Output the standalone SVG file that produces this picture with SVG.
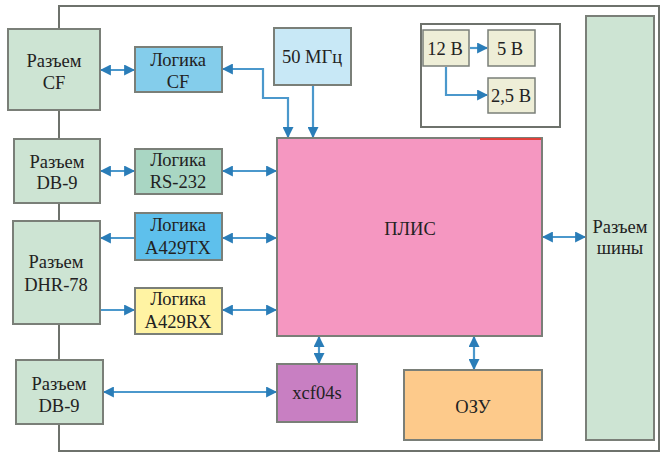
<svg xmlns="http://www.w3.org/2000/svg" width="666" height="458" viewBox="0 0 666 458">
<style>
text{font-size:18.5px;fill:#222;text-anchor:middle}
.box{stroke:#7a7f78;stroke-width:2}
.conn{fill:#cde4d3}
.wire{fill:none;stroke:#4b98cc;stroke-width:2.2}
.gl{stroke:#6e726c;stroke-width:2;fill:none}
</style>
<defs>
<marker id="ah" viewBox="0 0 10 10" refX="9" refY="5" markerWidth="5" markerHeight="5" orient="auto-start-reverse" markerUnits="strokeWidth">
<path d="M0,0 L10,5 L0,10 z" fill="#2a7db8"/>
</marker>
</defs>
<rect width="666" height="458" fill="#ffffff"/>
<g id="board">
<rect x="59" y="6" width="600" height="445" fill="#eeecd6" class="gl"/>
</g>
<g id="connectors">
<path class="wire" d="M101,70 H134" marker-start="url(#ah)" marker-end="url(#ah)"/>
<path class="wire" d="M223,69 H263 V98 H288 V137" marker-start="url(#ah)" marker-end="url(#ah)"/>
<path class="wire" d="M313,86 V137" marker-end="url(#ah)"/>
<path class="wire" d="M101,171 H134" marker-start="url(#ah)" marker-end="url(#ah)"/>
<path class="wire" d="M223,171 H276" marker-start="url(#ah)" marker-end="url(#ah)"/>
<path class="wire" d="M101,238 H134" marker-start="url(#ah)"/>
<path class="wire" d="M223,238 H276" marker-start="url(#ah)" marker-end="url(#ah)"/>
<path class="wire" d="M101,310 H134" marker-end="url(#ah)"/>
<path class="wire" d="M223,310 H276" marker-start="url(#ah)" marker-end="url(#ah)"/>
<path class="wire" d="M104,392 H276" marker-start="url(#ah)" marker-end="url(#ah)"/>
<path class="wire" d="M319,337 V363" marker-start="url(#ah)" marker-end="url(#ah)"/>
<path class="wire" d="M474,337 V369" marker-start="url(#ah)" marker-end="url(#ah)"/>
<path class="wire" d="M543,237 H585" marker-start="url(#ah)" marker-end="url(#ah)"/>
<path class="wire" d="M470,48 H487" marker-end="url(#ah)"/>
<path class="wire" d="M446,67 V95 H487" marker-end="url(#ah)"/>
</g>
<g font-family="Liberation Serif, Times New Roman, serif">
<g id="n-cf"><rect class="box conn" x="8" y="29" width="92" height="81"/><text x="54" y="67">Разъем</text><text x="54" y="89">CF</text></g>
<g id="n-db9a"><rect class="box conn" x="14" y="139" width="86" height="64"/><text x="57" y="168">Разъем</text><text x="57" y="189">DB-9</text></g>
<g id="n-dhr"><rect class="box conn" x="13" y="221" width="87" height="103"/><text x="56" y="268">Разъем</text><text x="56" y="291">DHR-78</text></g>
<g id="n-db9b"><rect class="box conn" x="16" y="360" width="87" height="64"/><text x="59" y="390">Разъем</text><text x="59" y="412">DB-9</text></g>
<g id="n-lcf"><rect class="box" x="135" y="47" width="87" height="45" fill="#84cdeb"/><text x="178" y="66">Логика</text><text x="178" y="88">CF</text></g>
<g id="n-l232"><rect class="box" x="135" y="149" width="87" height="45" fill="#a9d6c3"/><text x="178" y="166">Логика</text><text x="178" y="188">RS-232</text></g>
<g id="n-ltx"><rect class="box" x="135" y="213" width="87" height="47" fill="#5ec0ec"/><text x="178" y="231">Логика</text><text x="178" y="254">A429TX</text></g>
<g id="n-lrx"><rect class="box" x="135" y="288" width="87" height="46" fill="#fff3a3"/><text x="178" y="305">Логика</text><text x="178" y="328">A429RX</text></g>
<g id="n-clk"><rect class="box" x="274" y="28" width="77" height="57" fill="#c8e8f6"/><text x="312" y="63">50 МГц</text></g>
<g id="n-fpga"><rect class="box" x="277" y="138" width="265" height="198" fill="#f597c1"/><line x1="480" y1="139" x2="541" y2="139" stroke="#e0403a" stroke-width="2"/><text x="410" y="235">ПЛИС</text></g>
<g id="n-power"><rect x="421" y="24" width="139" height="103" class="gl"/></g>
<g id="n-12v"><rect x="423" y="30" width="46" height="36" fill="#eeeed7" stroke="#7a7f78" stroke-width="1.5"/><text x="445" y="55">12 В</text></g>
<g id="n-5v"><rect x="488" y="30" width="47" height="36" fill="#eeeed7" stroke="#7a7f78" stroke-width="1.5"/><text x="510" y="55">5 В</text></g>
<g id="n-25v"><rect x="488" y="78" width="47" height="35" fill="#eeeed7" stroke="#7a7f78" stroke-width="1.5"/><text x="511" y="102">2,5 В</text></g>
<g id="n-bus"><rect class="box conn" x="586" y="16" width="68" height="424"/><text x="620" y="233">Разъем</text><text x="620" y="254">шины</text></g>
<g id="n-xcf"><rect class="box" x="277" y="364" width="80" height="58" fill="#c87fc2"/><text x="317" y="399">xcf04s</text></g>
<g id="n-ram"><rect class="box" x="404" y="370" width="138" height="70" fill="#fdca8b"/><text x="473" y="413">ОЗУ</text></g>
</g>
</svg>
